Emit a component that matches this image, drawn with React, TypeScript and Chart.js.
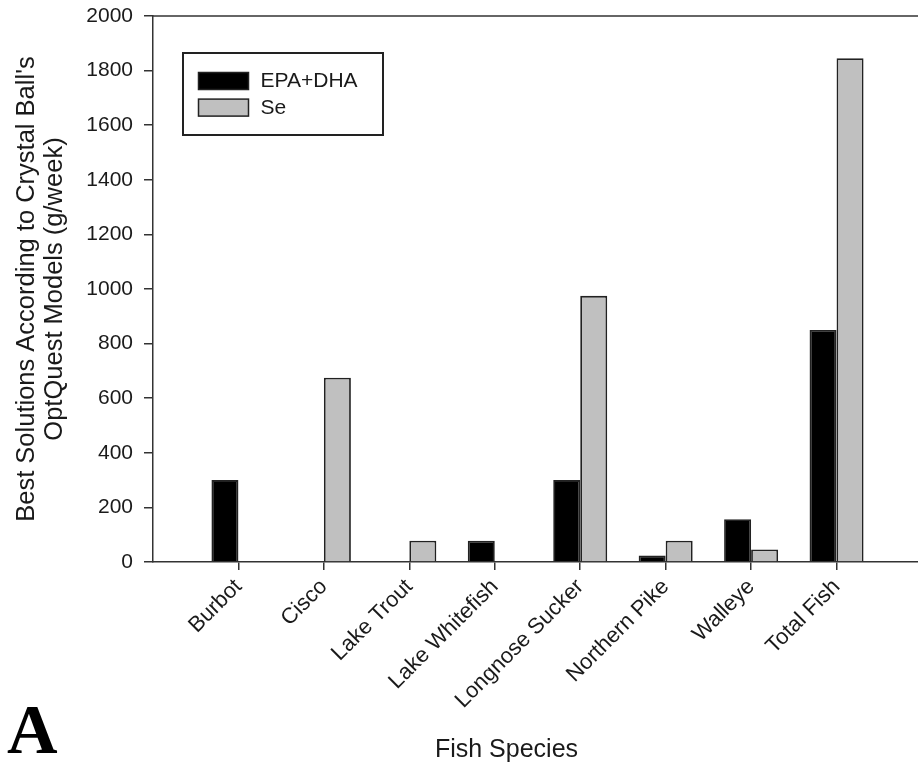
import React, { useEffect, useRef } from 'react';
import { Chart, registerables } from 'chart.js';

Chart.register(...registerables);

// ---- data ----
const categories = [
  'Burbot',
  'Cisco',
  'Lake Trout',
  'Lake Whitefish',
  'Longnose Sucker',
  'Northern Pike',
  'Walleye',
  'Total Fish',
];
const epaDha = [300, 0, 0, 78, 300, 24, 157, 850];
const selenium = [0, 675, 78, 0, 975, 78, 46, 1845];
const seriesNames = ['EPA+DHA', 'Se'];
const yMin = 0;
const yMax = 2000;
const yStep = 200;
const yTitle = ["Best Solutions According to Crystal Ball's", 'OptQuest Models (g/week)'];
const xTitle = 'Fish Species';
const panelLetter = 'A';

const FONT = '"Liberation Sans", Arial, Helvetica, sans-serif';
const INK = '#1a1a1a';
const AXIS = '#333333';

// padded labels so the first category sits one slot right of the y axis
const labels = ['', ...categories, ''];
const pad = (arr: number[]) => [null, ...arr, null];

const frameLegendPlugin = {
  id: 'frameLegend',
  afterDraw(chart: any) {
    const { ctx, chartArea } = chart;
    ctx.save();
    // top frame line
    ctx.strokeStyle = AXIS;
    ctx.lineWidth = 1.5;
    ctx.beginPath();
    ctx.moveTo(chartArea.left, chartArea.top);
    ctx.lineTo(chartArea.right, chartArea.top);
    ctx.stroke();

    // legend box
    const x0 = chartArea.left + 30;
    const y0 = chartArea.top + 37;
    const w = 200;
    const h = 82;
    ctx.fillStyle = '#ffffff';
    ctx.fillRect(x0, y0, w, h);
    ctx.lineWidth = 2;
    ctx.strokeStyle = '#222222';
    ctx.strokeRect(x0, y0, w, h);
    chart.data.datasets.forEach((ds: any, i: number) => {
      const px = x0 + 15.5;
      const py = y0 + 19.5 + i * 26.6;
      ctx.fillStyle = ds.backgroundColor;
      ctx.fillRect(px, py, 50, 17);
      ctx.lineWidth = 1.5;
      ctx.strokeStyle = ds.borderColor;
      ctx.strokeRect(px, py, 50, 17);
      ctx.fillStyle = INK;
      ctx.font = `21px ${FONT}`;
      ctx.textBaseline = 'middle';
      ctx.textAlign = 'left';
      ctx.fillText(ds.label, x0 + 77.5, py + 9);
    });
    ctx.restore();
  },
};

export default function App() {
  const canvasRef = useRef<HTMLCanvasElement | null>(null);

  useEffect(() => {
    const canvas = canvasRef.current;
    if (!canvas) return;
    const chart = new Chart(canvas, {
      type: 'bar',
      data: {
        labels,
        datasets: [
          {
            label: seriesNames[0],
            data: pad(epaDha),
            backgroundColor: '#000000',
            borderColor: '#222222',
            borderWidth: 1.8,
            categoryPercentage: 0.632,
            barPercentage: 1.0,
          },
          {
            label: seriesNames[1],
            data: pad(selenium),
            backgroundColor: '#c0c0c0',
            borderColor: '#222222',
            borderWidth: 1.8,
            categoryPercentage: 0.632,
            barPercentage: 1.0,
          },
        ],
      },
      options: {
        animation: false,
        responsive: false,
        maintainAspectRatio: false,
        devicePixelRatio: 1,
        layout: { padding: { left: 0, top: 16, right: 0, bottom: 0 } },
        plugins: {
          legend: { display: false },
          tooltip: { enabled: false },
        },
        scales: {
          x: {
            type: 'category',
            offset: false,
            grid: {
              offset: false,
              drawOnChartArea: false,
              drawTicks: true,
              tickLength: 8,
              lineWidth: 1.5,
              color: (c: any) =>
                c.index === 0 || c.index === labels.length - 1 ? 'rgba(0,0,0,0)' : AXIS,
            },
            border: { display: true, color: AXIS, width: 1.5 },
            ticks: {
              autoSkip: false,
              maxRotation: 45,
              minRotation: 45,
              padding: 4,
              color: INK,
              font: { family: FONT, size: 22 },
            },
            title: { display: false },
            afterFit: (scale: any) => {
              scale.height = 203;
              scale.paddingLeft = 0;
              scale.paddingRight = 0;
            },
          },
          y: {
            type: 'linear',
            position: 'left',
            min: yMin,
            max: yMax,
            grid: {
              drawOnChartArea: false,
              drawTicks: true,
              tickLength: 9,
              lineWidth: 1.5,
              color: AXIS,
            },
            border: { display: true, color: AXIS, width: 1.5 },
            ticks: {
              stepSize: yStep,
              padding: 11,
              color: INK,
              font: { family: FONT, size: 21 },
              callback: (v: any) => String(v),
            },
            title: {
              display: true,
              text: yTitle,
              color: INK,
              font: { family: FONT, size: 25.5, lineHeight: '28px' },
              padding: { top: 13, bottom: 0 },
            },
            afterFit: (scale: any) => {
              scale.width = 153;
              scale.paddingTop = 0;
              scale.paddingBottom = 0;
            },
          },
        },
      },
      plugins: [frameLegendPlugin],
    });
    return () => chart.destroy();
  }, []);

  return (
    <div
      style={{
        position: 'absolute',
        left: 0,
        top: 0,
        width: 918,
        height: 765,
        overflow: 'hidden',
        background: '#ffffff',
      }}
    >
      <canvas
        ref={canvasRef}
        width={922}
        height={765}
        style={{ display: 'block', width: 922, height: 765 }}
      />
      <div
        style={{
          position: 'absolute',
          left: 506.5,
          top: 735.5,
          transform: 'translateX(-50%)',
          whiteSpace: 'nowrap',
          fontFamily: FONT,
          fontSize: 25,
          lineHeight: '25px',
          color: INK,
        }}
      >
        {xTitle}
      </div>
      <div
        style={{
          position: 'absolute',
          left: 7,
          top: 694.5,
          fontFamily: '"Liberation Serif", "Times New Roman", serif',
          fontWeight: 'bold',
          fontSize: 70,
          lineHeight: '70px',
          color: '#000000',
        }}
      >
        {panelLetter}
      </div>
    </div>
  );
}
